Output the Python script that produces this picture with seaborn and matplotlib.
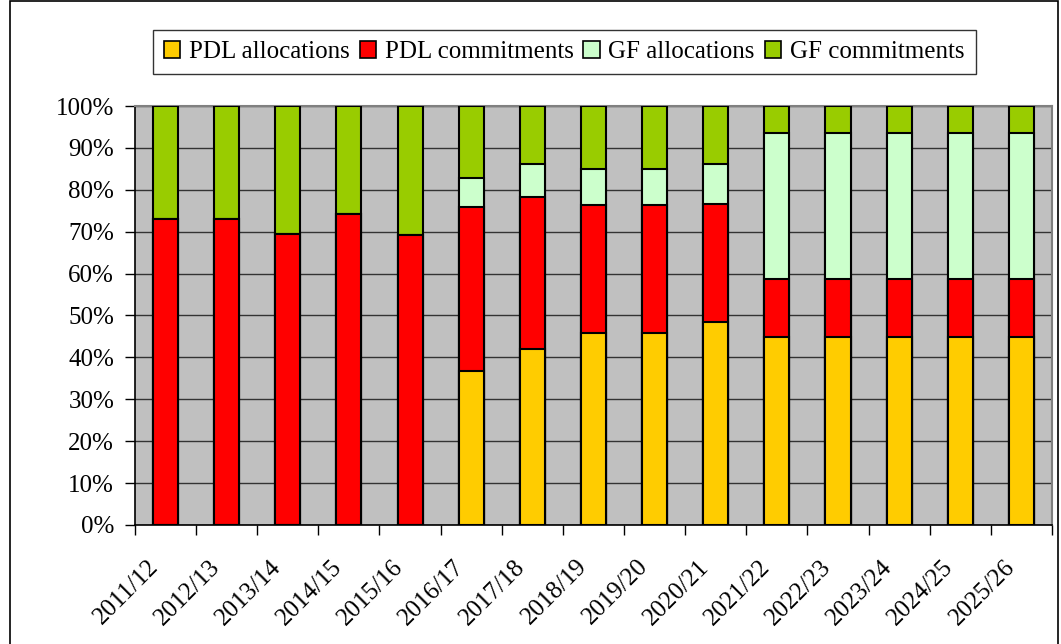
import pandas as pd
import numpy as np
import matplotlib.pyplot as plt
import matplotlib.patches as mpatches
import matplotlib.transforms as mtransforms
import seaborn as sns

# Values (% share of each year)
years = ["2011/12", "2012/13", "2013/14", "2014/15", "2015/16", "2016/17", "2017/18",
         "2018/19", "2019/20", "2020/21", "2021/22", "2022/23", "2023/24", "2024/25", "2025/26"]
pdl_alloc = [0, 0, 0, 0, 0, 36.8, 42.0, 45.8, 45.8, 48.4, 44.9, 44.9, 44.9, 44.9, 44.9]
pdl_commit = [73.0, 73.0, 69.5, 74.2, 69.1, 39.1, 36.4, 30.6, 30.6, 28.3, 13.8, 13.8, 13.8, 13.8, 13.8]
gf_alloc = [0, 0, 0, 0, 0, 6.8, 7.8, 8.6, 8.6, 9.5, 34.8, 34.8, 34.8, 34.8, 34.8]
gf_commit = [27.0, 27.0, 30.5, 25.8, 30.9, 17.3, 13.8, 15.0, 15.0, 13.8, 6.5, 6.5, 6.5, 6.5, 6.5]

series = ["PDL allocations", "PDL commitments", "GF allocations", "GF commitments"]
colors = ["#FFCC00", "#FF0000", "#CCFFCC", "#99CC00"]

df = pd.DataFrame({"Year": years, series[0]: pdl_alloc, series[1]: pdl_commit,
                   series[2]: gf_alloc, series[3]: gf_commit})
cum = df[series].cumsum(axis=1)

plt.rcParams['font.family'] = ['Liberation Serif', 'DejaVu Serif']

fig = plt.figure(figsize=(10.61, 6.44), dpi=100)
ax = fig.add_axes([0.1272, 0.1848, 0.8643, 0.6506])
ax.set_facecolor("#C0C0C0")

# stacked bars: draw cumulative totals from the top series down
for name, col in reversed(list(zip(series, colors))):
    sns.barplot(x=df["Year"], y=cum[name], color=col, width=0.41,
                edgecolor="black", linewidth=1.5, saturation=1, ax=ax, zorder=3)

ax.set_ylim(0, 100)
ax.set_xlim(-0.5, len(years) - 0.5)
ax.set_yticks(np.arange(0, 101, 10))
ax.set_yticklabels([f"{v}%" for v in range(0, 101, 10)], fontsize=18)
ax.yaxis.grid(True, color="#333333", linewidth=1)
ax.set_axisbelow(True)
ax.set_xlabel("")
ax.set_ylabel("")

# tick marks between categories, labels at category centres
ax.set_xticks(np.arange(len(years)))
ax.set_xticklabels(years, rotation=45, ha="right", rotation_mode="anchor", fontsize=18)
ax.tick_params(axis="x", length=0, pad=22)
shift = mtransforms.ScaledTranslation(-13 / 72, 0, fig.dpi_scale_trans)
for lab in ax.get_xticklabels():
    lab.set_transform(lab.get_transform() + shift)
ax.set_xticks(np.arange(len(years) + 1) - 0.5, minor=True)
ax.tick_params(axis="x", which="minor", length=7, width=1, color="black", direction="out")
ax.tick_params(axis="y", length=7, width=1, direction="out", pad=8)

for s in ["left", "bottom"]:
    ax.spines[s].set_color("black")
    ax.spines[s].set_linewidth(1.2)
for s in ["top", "right"]:
    ax.spines[s].set_color("#808080")
    ax.spines[s].set_linewidth(1.5)

handles = [mpatches.Patch(facecolor=c, edgecolor="black", linewidth=1.2, label=n)
           for n, c in zip(series, colors)]
leg = fig.legend(handles=handles, loc="center", bbox_to_anchor=(0.5316, 0.919), ncol=4,
                 fontsize=18, frameon=True, fancybox=False, edgecolor="black",
                 handlelength=0.65, handleheight=0.65, handletextpad=0.35, columnspacing=0.4,
                 borderpad=0.45, borderaxespad=0.0)
leg.get_frame().set_linewidth(1)

# outer chart border
fig.add_artist(mpatches.Rectangle((0.0095, -0.05), 0.988, 1.048, transform=fig.transFigure,
                                  fill=False, edgecolor="black", linewidth=1.2))

plt.savefig("out.png", dpi=100)
